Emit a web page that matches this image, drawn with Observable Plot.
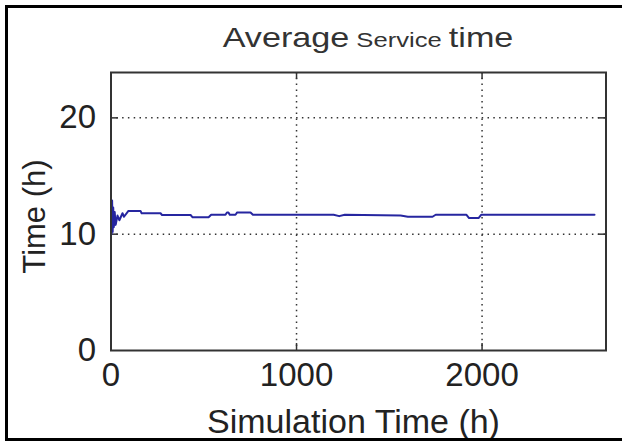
<!DOCTYPE html>
<html>
<head>
<meta charset="utf-8">
<script src="https://cdn.jsdelivr.net/npm/d3@7"></script>
<script src="https://cdn.jsdelivr.net/npm/@observablehq/plot@0.6"></script>
<style>
  body { margin: 0; background: #fff; }
  #fig { position: relative; width: 622px; height: 442px; background: #fff; overflow: hidden; }
  #title { height: 60px; position: relative; }
  #title .t { position: absolute; left: 368px; top: 24px; transform: translateX(-50%) scaleX(1.22);
    white-space: nowrap; font-family: "Liberation Sans", Arial, sans-serif; font-size: 28px; line-height: 28px;
    color: #333; word-spacing: -2px; }
  #title .s { font-size: 21px; }
  #border { position: absolute; left: 5px; top: 5px; width: 617px; height: 436px; box-sizing: border-box;
    border: 3px solid #000; border-right: none; pointer-events: none; }
</style>
</head>
<body>
<div id="fig">
  <div id="title"><div class="t">Average <span class="s">Service</span> time</div></div>
  <div id="chart"></div>
  <div id="border"></div>
</div>
<script>
// Simulation time (h) and running average service time (h)
const simTime = [0, 3, 6, 9, 12, 15, 20, 25, 35, 45, 62, 70, 94, 159, 165, 267, 275, 429, 440, 526, 540, 617, 625, 633, 640, 671, 680, 752, 765, 1200, 1230, 1260, 1561, 1600, 1733, 1750, 1916, 1930, 1981, 1995, 2606];
const avgService = [12.5, 10.0, 12.9, 10.2, 12.3, 10.6, 11.9, 10.8, 11.6, 11.2, 11.8, 11.5, 12.0, 12.0, 11.8, 11.8, 11.65, 11.65, 11.45, 11.45, 11.67, 11.67, 11.87, 11.87, 11.67, 11.67, 11.87, 11.87, 11.67, 11.67, 11.55, 11.67, 11.6, 11.5, 11.5, 11.67, 11.67, 11.39, 11.39, 11.67, 11.67];
const xTicks = [0, 1000, 2000];
const yTicks = [0, 10, 20];
const xGrid = [1000, 2000];
const yGrid = [10, 20];
const xLabel = "Simulation Time (h)";
const yLabel = "Time (h)";

const data = simTime.map((t, i) => ({t, v: avgService[i]}));
const xMax = 2668, yMax = 23.9;
const dotted = {stroke: "#333", strokeOpacity: 1, strokeDasharray: "1.5,4.3", strokeWidth: 1.5};
const tick = {stroke: "#333", strokeWidth: 1.5};

const chart = Plot.plot({
  width: 622,
  height: 382,
  marginLeft: 110.5,
  marginRight: 16.5,
  marginTop: 12,
  marginBottom: 92,
  x: {domain: [0, xMax]},
  y: {domain: [0, yMax]},
  style: {background: "transparent", fontFamily: "'Liberation Sans', Arial, sans-serif", color: "#222", overflow: "visible"},
  marks: [
    Plot.gridX(xGrid, dotted),
    Plot.gridY(yGrid, dotted),
    Plot.ruleX(xGrid, {y1: 0, y2: 0.6, ...tick}),
    Plot.ruleX(xGrid, {y1: yMax - 0.6, y2: yMax, ...tick}),
    Plot.ruleY(yGrid, {x1: 0, x2: 40, ...tick}),
    Plot.ruleY(yGrid, {x1: xMax - 40, x2: xMax, ...tick}),
    Plot.line(data, {x: "t", y: "v", stroke: "#2626a0", strokeWidth: 2}),
    Plot.frame({stroke: "#333", strokeWidth: 2}),
    Plot.axisX(xTicks, {tickSize: 0, tickPadding: 12, fontSize: 33, label: null, tickFormat: d => String(d)}),
    Plot.axisY(yTicks, {tickSize: 0, tickPadding: 15, fontSize: 33, label: null, tickFormat: d => String(d)}),
    Plot.text([yLabel], {frameAnchor: "left", text: d => d, rotate: -90, textAnchor: "middle", lineAnchor: "middle", dx: -76, dy: 5, fontSize: 31, fill: "#222"}),
    Plot.text([xLabel], {frameAnchor: "bottom", text: d => d, textAnchor: "middle", lineAnchor: "middle", dx: -5, dy: 72, fontSize: 34, fill: "#222"})
  ]
});
document.getElementById("chart").appendChild(chart);
</script>
</body>
</html>
